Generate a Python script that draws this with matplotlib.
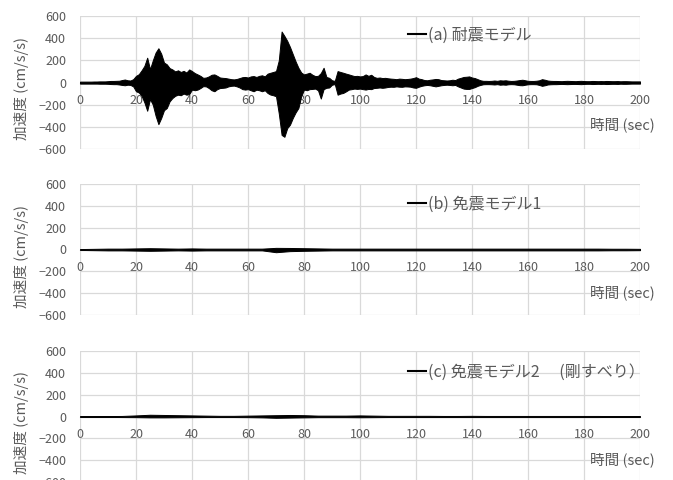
import matplotlib
matplotlib.use("Agg")
import matplotlib.pyplot as plt

plt.rcParams['font.family'] = ['Noto Sans CJK JP', 'DejaVu Sans']

# ---- data -------------------------------------------------------------
# (a) envelope of the fixed-base response, one value per second (cm/s/s)
time_a = list(range(0, 201))
upper_a = [
    8, 8, 8, 8, 8, 9, 9, 10, 10, 10,
    12, 14, 14, 15, 16, 22, 27, 20, 18, 30,
    60, 75, 110, 150, 224, 120, 200, 270, 309, 260,
    180, 164, 130, 118, 100, 110, 95, 105, 90, 118,
    103, 85, 73, 60, 42, 45, 55, 70, 73, 60,
    45, 42, 40, 35, 30, 28, 32, 40, 48, 50,
    45, 55, 58, 50, 60, 65, 55, 80, 88, 95,
    103, 200, 460, 420, 376, 320, 255, 190, 133, 90,
    73, 80, 88, 70, 58, 60, 85, 133, 50, 42,
    20, 15, 103, 95, 88, 80, 73, 65, 58, 60,
    55, 58, 73, 60, 70, 50, 42, 45, 40, 42,
    38, 35, 33, 30, 35, 33, 30, 32, 35, 40,
    48, 35, 30, 22, 20, 25, 28, 32, 30, 22,
    20, 18, 20, 25, 22, 35, 42, 50, 52, 55,
    45, 40, 30, 20, 15, 15, 14, 15, 18, 15,
    20, 18, 20, 16, 14, 15, 18, 22, 25, 20,
    15, 14, 14, 16, 20, 30, 25, 18, 15, 14,
    14, 13, 12, 14, 15, 14, 13, 12, 14, 15,
    13, 12, 12, 14, 13, 12, 13, 12, 14, 13,
    12, 12, 13, 11, 12, 12, 11, 10, 10, 10, 10,
]
lower_a = [
    -10, -10, -10, -10, -10, -10, -10, -11, -11, -11,
    -12, -14, -15, -15, -18, -22, -25, -20, -22, -35,
    -79, -90, -120, -180, -255, -150, -200, -300, -376, -320,
    -250, -230, -170, -140, -120, -110, -115, -100, -110, -105,
    -64, -70, -64, -50, -33, -35, -50, -70, -79, -60,
    -50, -48, -45, -35, -30, -28, -35, -45, -60, -64,
    -60, -70, -79, -65, -70, -79, -70, -95, -109, -115,
    -124, -280, -473, -490, -412, -380, -320, -270, -230, -124,
    -64, -70, -60, -58, -55, -70, -145, -60, -48, -45,
    -20, -15, -110, -100, -94, -80, -64, -60, -55, -58,
    -55, -60, -64, -58, -60, -50, -48, -45, -48, -45,
    -40, -38, -39, -35, -38, -39, -35, -36, -38, -45,
    -48, -38, -30, -25, -22, -25, -30, -35, -30, -25,
    -22, -20, -22, -25, -22, -35, -45, -55, -58, -58,
    -50, -42, -30, -22, -16, -15, -15, -16, -18, -15,
    -20, -18, -20, -16, -15, -16, -20, -24, -25, -20,
    -16, -15, -15, -16, -22, -30, -25, -18, -16, -15,
    -15, -14, -13, -14, -15, -14, -13, -13, -14, -15,
    -13, -12, -12, -14, -13, -12, -13, -12, -14, -13,
    -12, -12, -13, -11, -12, -12, -11, -10, -10, -10, -10,
]

# (b), (c) envelopes of the isolated responses, one value per 5 s
time_bc = list(range(0, 201, 5))
upper_b = [4, 6, 8, 8, 10, 12, 10, 8, 10, 8,
           8, 8, 8, 8, 15, 14, 12, 10, 8, 8,
           8, 8, 8, 8, 8, 8, 8, 8, 8, 8,
           8, 8, 8, 8, 8, 8, 8, 8, 7, 7, 6]
lower_b = [-4, -6, -8, -8, -10, -12, -10, -8, -10, -8,
           -8, -8, -8, -8, -25, -15, -12, -10, -8, -8,
           -8, -8, -8, -8, -8, -8, -8, -8, -8, -8,
           -8, -8, -8, -8, -8, -8, -8, -8, -7, -7, -6]
upper_c = [3, 3, 4, 5, 10, 16, 14, 12, 10, 8,
           6, 6, 8, 10, 12, 14, 12, 8, 8, 8,
           10, 8, 6, 6, 6, 6, 5, 5, 6, 5,
           5, 5, 5, 5, 5, 5, 5, 5, 4, 4, 4]
lower_c = [-3, -3, -4, -5, -6, -8, -8, -7, -6, -5,
           -5, -5, -6, -8, -12, -10, -8, -6, -6, -6,
           -7, -6, -5, -5, -5, -5, -5, -5, -5, -5,
           -5, -5, -5, -5, -5, -5, -5, -5, -4, -4, -4]

x_ticks = list(range(0, 201, 20))
y_ticks = list(range(-600, 601, 200))
labels = ["(a) 耐震モデル", "(b) 免震モデル1", "(c) 免震モデル2　 (剛すべり）"]
y_title = "加速度 (cm/s/s)"
x_title = "時間 (sec)"

series = [
    (time_a, upper_a, lower_a),
    (time_bc, upper_b, lower_b),
    (time_bc, upper_c, lower_c),
]

# ---- layout -----------------------------------------------------------
W, H = 673, 480
fig = plt.figure(figsize=(W / 100, H / 100), dpi=100)
left, right = 80, 640
panels = [(16, 149), (184, 315), (351, 482)]   # top / bottom in pixels
legend_y = [35, 204, 372]

GRAY = "#595959"
GRID = "#d9d9d9"

for (top, bot), (t, up, lo), lab, ly in zip(panels, series, labels, legend_y):
    ax = fig.add_axes([left / W, (H - bot) / H, (right - left) / W, (bot - top) / H])
    ax.set_xlim(0, 200)
    ax.set_ylim(-600, 600)
    ax.set_xticks(x_ticks)
    ax.set_yticks(y_ticks)
    ax.grid(True, color=GRID, linewidth=0.9)
    ax.set_axisbelow(True)
    for s in ("top", "right", "left"):
        ax.spines[s].set_visible(False)
    ax.spines["bottom"].set_position(("data", 0))
    ax.spines["bottom"].set_color(GRID)
    ax.spines["bottom"].set_linewidth(0.9)
    ax.spines["bottom"].set_zorder(0)
    ax.tick_params(axis="both", length=0, labelsize=9, labelcolor=GRAY)
    ax.tick_params(axis="x", pad=8)
    ax.tick_params(axis="y", pad=10)

    ax.fill_between(t, lo, up, color="black", linewidth=0.7, edgecolor="black",
                    zorder=3)
    handle, = ax.plot([], [], color="black", linewidth=1.5)

    ax.legend([handle], [lab], loc="center left",
              bbox_to_anchor=((408 - left) / (right - left), (bot - ly) / (bot - top)),
              frameon=False, borderaxespad=0, borderpad=0,
              handlelength=1.1, handletextpad=0.15,
              fontsize=11.5, labelcolor=GRAY)

    fig.text(655 / W, (H - (top + 109)) / H, x_title, ha="right", va="center",
             fontsize=10.5, color=GRAY)
    fig.text(22 / W, (H - (top + 72)) / H, y_title, ha="center", va="center",
             rotation=90, fontsize=10.5, color=GRAY)

fig.savefig("out.png", dpi=100)
